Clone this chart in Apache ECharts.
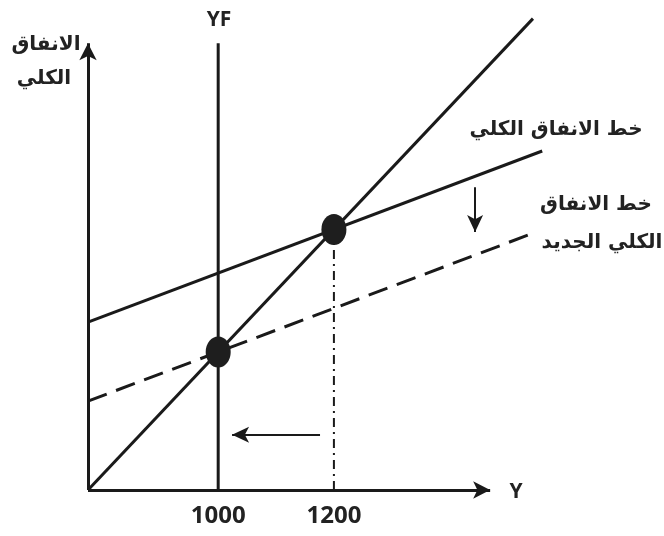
<!DOCTYPE html>
<html>
<head>
<meta charset="utf-8">
<script src="https://cdn.jsdelivr.net/npm/echarts@6/dist/echarts.min.js"></script>
<style>html,body{margin:0;padding:0;background:#fff}#c{width:664px;height:536px}</style>
</head>
<body>
<div id="c"></div>
<script>
// ---- data (output Y on x-axis, aggregate expenditure on y-axis) ----
const xRange = [775, 1570];
const yRange = [775, 1545];
const xTickValues = [1000, 1200];
const line45 = [[775, 775], [1544, 1544]];
const aeLine = [[775, 1049], [1560, 1328]];
const newAeLine = [[775, 920], [1550, 1196]];
const yfLine = [[1000, 775], [1000, 1504]];
const guide1200 = [[1200, 775], [1200, 1200]];
const equilibria = [[1000, 1000], [1200, 1200]];
const xAxisSeg = [[775, 775], [1470, 775]];
const yAxisSeg = [[775, 775], [775, 1504]];
const shiftLeft = [[1176, 865], [1024, 865]];
const shiftDown = [[1444, 1269], [1444, 1196]];
const labels = {
  yAxis1: 'الانفاق', yAxis2: 'الكلي', xAxis: 'Y', yf: 'YF',
  ae: 'خط الانفاق الكلي', newAe1: 'خط الانفاق', newAe2: 'الكلي الجديد'
};

const INK = '#1a1a1a';
const AR = '"DejaVu Sans", sans-serif';
const LAT = '"Open Sans", "Liberation Sans", sans-serif';

function lineSeries(data, width, type) {
  return { type: 'line', data: data, showSymbol: false, silent: true, animation: false,
    lineStyle: { color: INK, width: width, type: type || 'solid' }, z: 3 };
}
function arrowSeries(seg, width, size) {
  return { type: 'line', data: [], silent: true, animation: false,
    markLine: { silent: true, animation: false, symbol: ['none', 'arrow'], symbolSize: size,
      label: { show: false },
      lineStyle: { color: INK, width: width, type: 'solid', opacity: 1 },
      itemStyle: { color: INK },
      emphasis: { disabled: true },
      data: [[{ coord: seg[0] }, { coord: seg[1] }]] } };
}

const chart = echarts.init(document.getElementById('c'));
chart.setOption({
  backgroundColor: '#fff',
  animation: false,
  grid: { left: 88, top: 18, width: 460, height: 472 },
  xAxis: { type: 'value', min: xRange[0], max: xRange[1],
    axisLine: { show: false }, axisTick: { show: false }, splitLine: { show: false },
    axisLabel: { customValues: xTickValues, margin: 14, fontSize: 24, fontWeight: 'bold',
      color: '#222', fontFamily: LAT, formatter: function (v) { return String(v); } } },
  yAxis: { type: 'value', min: yRange[0], max: yRange[1],
    axisLine: { show: false }, axisTick: { show: false }, splitLine: { show: false },
    axisLabel: { show: false } },
  series: [
    arrowSeries(xAxisSeg, 3, [13, 17]),
    arrowSeries(yAxisSeg, 3, [13, 17]),
    lineSeries(yfLine, 3),
    lineSeries(line45, 3),
    lineSeries(aeLine, 3),
    lineSeries(newAeLine, 3, [20, 10]),
    lineSeries(guide1200, 2, [9, 5, 2, 5]),
    arrowSeries(shiftLeft, 2, [12, 17]),
    arrowSeries(shiftDown, 2, [12, 17]),
    { type: 'scatter', data: equilibria, symbol: 'circle', symbolSize: [25, 31], silent: true,
      itemStyle: { color: '#1e1e1e', opacity: 1 }, z: 5 }
  ],
  graphic: [
    { type: 'text', x: 219, y: 20, style: { text: labels.yf, fill: '#222', font: 'bold 21px ' + LAT, align: 'center', verticalAlign: 'middle' } },
    { type: 'text', x: 46, y: 45, style: { text: labels.yAxis1, fill: '#222', font: 'bold 20px ' + AR, align: 'center', verticalAlign: 'middle' } },
    { type: 'text', x: 44, y: 79, style: { text: labels.yAxis2, fill: '#222', font: 'bold 20px ' + AR, align: 'center', verticalAlign: 'middle' } },
    { type: 'text', x: 516, y: 492, style: { text: labels.xAxis, fill: '#222', font: 'bold 21px ' + LAT, align: 'center', verticalAlign: 'middle' } },
    { type: 'text', x: 556, y: 130, style: { text: labels.ae, fill: '#222', font: 'bold 20px ' + AR, align: 'center', verticalAlign: 'middle' } },
    { type: 'text', x: 596, y: 205, style: { text: labels.newAe1, fill: '#222', font: 'bold 20px ' + AR, align: 'center', verticalAlign: 'middle' } },
    { type: 'text', x: 602, y: 243, style: { text: labels.newAe2, fill: '#222', font: 'bold 20px ' + AR, align: 'center', verticalAlign: 'middle' } }
  ]
});
</script>
</body>
</html>
